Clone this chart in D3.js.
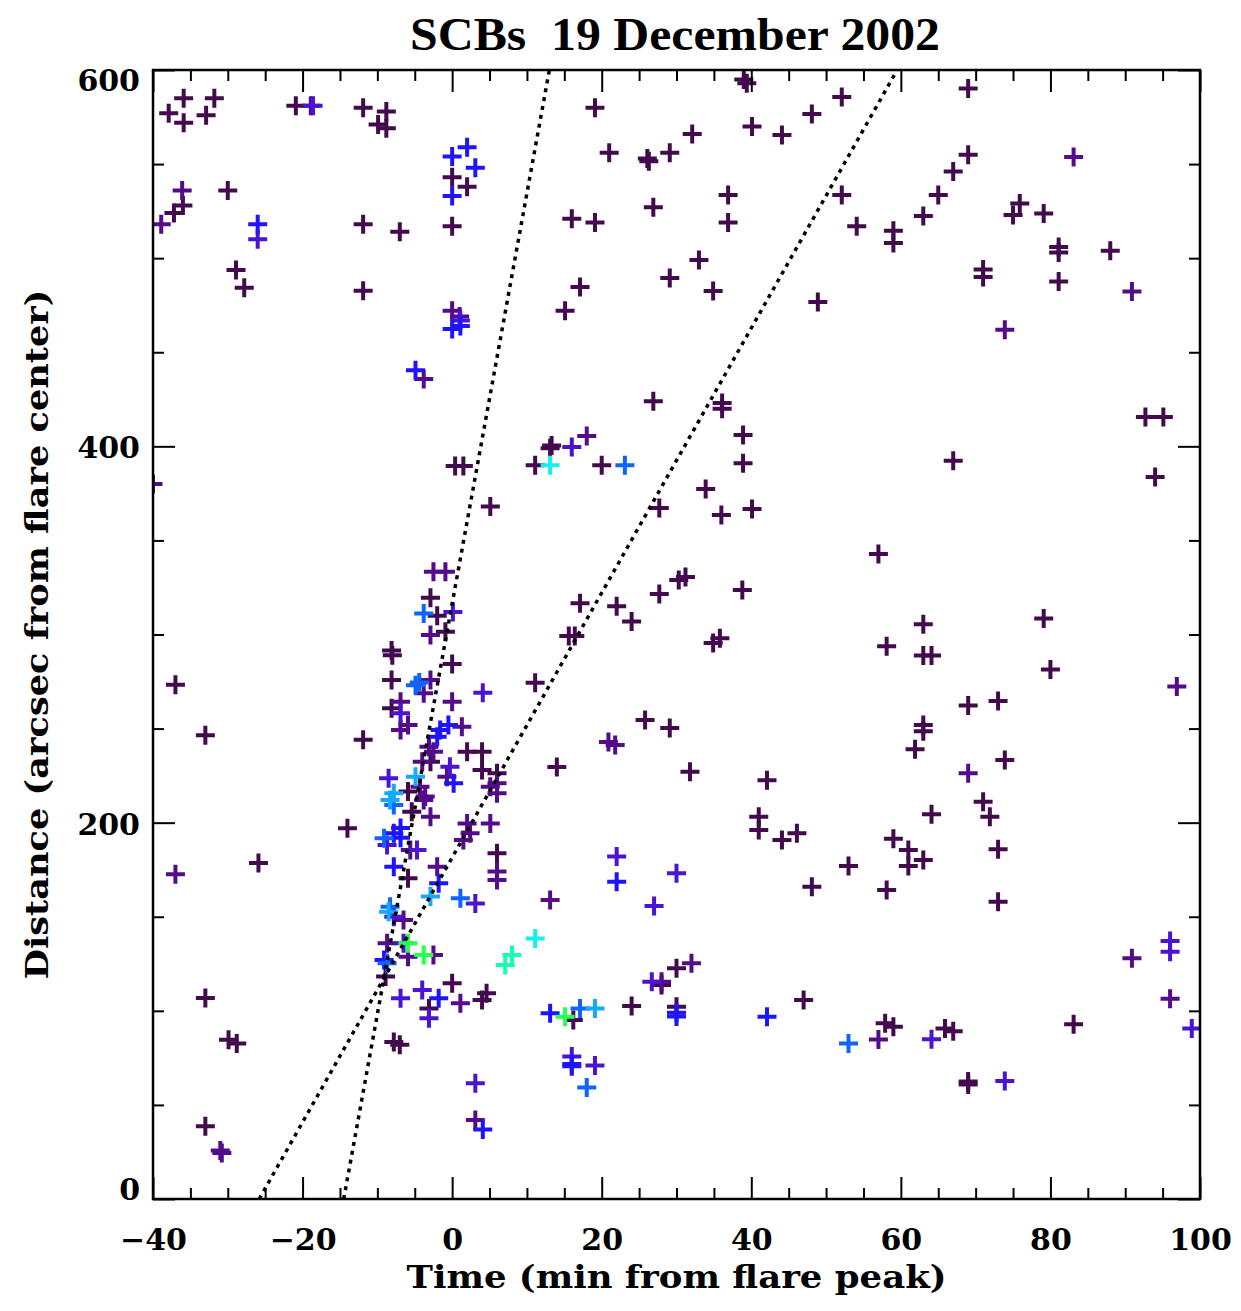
<!DOCTYPE html>
<html>
<head>
<meta charset="utf-8">
<script src="https://cdn.jsdelivr.net/npm/d3@7/dist/d3.min.js"></script>
<style>
  html, body { margin: 0; padding: 0; background: #ffffff; }
  svg { display: block; }
</style>
</head>
<body>
<svg id="chart" width="1241" height="1311"></svg>
<script>
// ---------------- DATA ----------------
const titleText = "SCBs  19 December 2002";
const xLabel = "Time (min from flare peak)";
const yLabel = "Distance (arcsec from flare center)";
const xDomain = [-40, 100];
const yDomain = [0, 600];
const xMajorTicks = [-40, -20, 0, 20, 40, 60, 80, 100];
const yMajorTicks = [0, 200, 400, 600];

// fitted front lines: [t0, d0, t1, d1]
const fitLineA = [-14.5, 0, 13.0, 600];
const fitLineB = [-25.8, 0, 59.5, 600];

// points grouped by colour level (0 = darkest ... 8 = green); each [time, distance]
const level0 = [
  [-37.9,577],[-35.9,585],[-35.9,572],[-32.9,576],[-31.8,585],[-20.9,581],[-11.9,580],[-8.8,578],
  [-9.9,571],[-8.8,569],[0,543],[2,538],[19.1,580],[21,556],[-36,528],[-37.2,524],[-30,536],
  [-11.9,518],[-7,514],[0,517],[16,521],[19.1,519],
  [39,595],[39.4,593],[52.1,585.6],[48.1,576.6],[40.1,570],[44.1,565.5],[32.1,566],[29.1,556],
  [26.1,553],[26.3,551.5],[36.9,533.6],[36.9,519],[26.9,527],[52.1,533.6],[54.1,517],[33,499],
  [29.1,489.5],[34.9,482.6],[17.1,484.7],[15.1,472],[48.9,476.7],[26.9,424],[36.1,423],[36.1,420],
  [13.1,399],[13.3,400.5],[20,390],[38.9,406],[38.9,391],[11.1,390],
  [69,590.2],[69,555],[67,546],[65,533.6],[63,522.4],[59,514.6],[59,508],[75.9,529],[75,523],
  [79.1,523.7],[81.1,503],[81.1,506],[88,504],[71,494],[71,490],[81.1,487.6],[92.7,415.6],
  [95.1,415.6],[67,392.4],[94,383.7],[57,342.8],
  [-28.9,493.7],[-27.8,484.3],[-11.9,482.7],[0.4,389.5],[1.5,389.5],[5.1,368],
  [-2.9,319.5],[-2,310],[-8.1,291.5],[-8.0,289],[0,284.3],[-8.1,275.8],[-8.1,260.8],[11.1,274.4],
  [-11.9,244],[-2.9,232.4],[2,237.7],[4,237.7],[4,228],[6,226.2],[-5.9,216.5],[-0.9,301.5],
  [-5.4,205.8],[6,183.7],[-5.9,170.4],[-8.9,118.2],[0,114.6],[4.6,109.3],[4,105.8],[-3.1,101.3],
  [16.2,95.1],[24,102.6],[30,122.6],[28,113.7],[30,102.2],[47,105.8],[41,203.2],[41,196.1],
  [44.1,190.8],[46.1,194.4],[42.1,222.5],[53,177],[48.1,166],
  [63,305.4],[58.1,293.7],[63,288.9],[64.1,288.9],[79.1,308.5],[80,281.4],[69,262.3],[73,264.7],
  [63,251.9],[63,248.6],[61.9,239],[73.9,233.3],[71,211.1],[71.9,203.1],[64.1,204.5],[59,191.5],
  [61,185.5],[63,180.2],[61,177],[73,185.9],[58.1,164.2],[73,158],[57.9,93.4],[59,91.5],
  [65.9,90.6],[67,89.1],[83.1,92.9],[69,62.5],[69,60.8],
  [-37,273.3],[-33,246.4],[-14,197],[-25.9,178.6],[-33,106.8],[-29.9,84.6],[-28.8,82.7],[-33,38.7],
  [33.9,377.3],[27.7,367.2],[36,363.5],[40.1,366.7],[17.1,316.6],[22,315],[24,306.9],[15.6,299.2],
  [16.4,299.2],[27.7,321.5],[30.3,329],[31.2,330.6],[38.8,323.7],[34.9,295.5],[35.8,298],
  [25.8,254.6],[29.1,250.3],[14,229.6],[31.8,227],[-7.8,83.5],[-7,82]
];
const level1 = [
  [-36.1,536],[-18.9,581],[-38.9,518],[0,472],[1,469],[18,405.5],[-3.8,435.8],[-2.5,333.4],[-0.9,333.4],
  [-2.9,299.7],[-2.9,275.8],[-3.8,268.8],[-6.9,264.3],[0,264.3],[-6.9,249.2],[-5.9,251.9],[1.3,251],
  [-3.1,240.4],[-2.5,237.7],[-4,232.4],[6,220.9],[5.1,219.1],[-0.7,224.4],[-4.3,219.1],[-3.6,213.9],
  [-3.8,212],[-2.9,203.2],[6,215.6],[2,199.6],[5.1,199.6],[2.4,194.4],[1.5,190.8],[-5.6,185.5],
  [-2,176.6],[6,174],[6,169.5],[-6.5,148.3],[-8.7,135.9],[-5.9,128.8],[-2.5,129.7],[1.1,104],
  [13.1,158.9],[32,125.3],[28,115.5],[3.1,42],[57,84.8],[20.9,242.9],[21.8,241.3],
  [83.1,553.8],[90.9,482.3],[73.9,462],[69,226.3],[96.9,272.4],[90.9,128],[96,106.4],
  [-37,172.6],[-31,25.8],[-30.8,24.5],
  [-41.3,563],[-40,380],[-41.3,248],[-41.3,207],[-41.3,202],[-41.3,188],[-41.3,118]
];
const level2 = [
  [-18.6,581],[-26,510],[1.1,466.9],[0.1,312],[4.1,269],[-6.9,258.1],[-0.3,229.7],[-8.5,223.6],
  [-8.7,188.1],[-4.7,185.5],[3.1,157.1],[-7.8,150],[-6.5,135.9],[-6.9,106.7],[-4,111.1],[-3.1,96],
  [22,182],[30,173.1],[27,155.7],[26.7,115.5],[16,75.7],[19.1,70.9],[3.1,61.5],[16,399.6],
  [96,137.1],[96,131.4],[64.1,84.9],[98.9,90.6],[73.9,62.7]
];
const level3 = [
  [-26,518],[0,554],[2,559],[3.1,548],[0,533],[0,462.3],[1.1,464],[-4.9,440.5],[-2,245.7],
  [-1.6,249.2],[-0.5,251.9],[0.2,220.9],[-7.8,194.4],[-6.9,197.1],[-6.9,192],[-7.8,176.6],
  [-1.8,167.8],[-9.1,127],[-1.8,106.7],[13.1,98.7],[30,97],[30,99],[42.1,96.9],[22,168.6],
  [16,71.7],[16,70.5],[4.1,37]
];
const level4 = [
  [23.1,390],[-3.8,311.2],[-4.9,273],[-4.4,274.5],[-7.8,209.4],[-9.1,191.7],[1.1,159.8],
  [-8.3,155.3],[-8.7,125.3],[17.1,101.3],[53,82.7],[18,59.2]
];
const level5 = [
  [-4.9,224.4],[-7.8,215.6],[-8.3,212],[-2.9,160.7],[-8.5,152.7],[19.1,101.3]
];
const level6 = [[13.1,390],[11.1,138.5]];
const level7 = [[8,129.7],[7.1,124.4]];
const level8 = [[-5.9,135.9],[-3.8,129.7],[15.1,96.9]];

const levels = [level0, level1, level2, level3, level4, level5, level6, level7, level8];

// ---------------- DRAWING ----------------
const svg = d3.select("#chart");
const W = 1241, H = 1311;
const margin = {left: 153, right: W - 1200, top: 70, bottom: H - 1199};

const x = d3.scaleLinear().domain(xDomain).range([margin.left, W - margin.right]);
const y = d3.scaleLinear().domain(yDomain).range([H - margin.bottom, margin.top]);

const colour = d3.scaleOrdinal()
  .domain(d3.range(levels.length))
  .range(["#430a4e", "#540c8a", "#4b14d2", "#1e14ff", "#0f64ff", "#14aaff", "#14f0ea", "#14ffb4", "#28ff50"]);

svg.append("rect").attr("width", W).attr("height", H).attr("fill", "#fff");

svg.append("clipPath").attr("id", "plotclip")
  .append("rect")
  .attr("x", x(xDomain[0])).attr("y", y(yDomain[1]))
  .attr("width", x(xDomain[1]) - x(xDomain[0]))
  .attr("height", y(yDomain[0]) - y(yDomain[1]));

const plot = svg.append("g").attr("clip-path", "url(#plotclip)");

// points (plus symbols)
const cross = "M-9.5,0H9.5M0,-9.5V9.5";
levels.forEach((pts, li) => {
  plot.append("g")
    .selectAll("path")
    .data(pts)
    .join("path")
    .attr("d", cross)
    .attr("transform", d => `translate(${x(d[0])},${y(d[1])})`)
    .attr("fill", "none")
    .attr("stroke", colour(li))
    .attr("stroke-width", 4);
});

// dotted fit lines
[fitLineA, fitLineB].forEach(l => {
  plot.append("line")
    .attr("x1", x(l[0])).attr("y1", y(l[1]))
    .attr("x2", x(l[2])).attr("y2", y(l[3]))
    .attr("stroke", "#000")
    .attr("stroke-width", 3.5)
    .attr("stroke-dasharray", "4,5");
});

// axes
const tickFont = "'DejaVu Serif', serif";
const minorX = d3.range(xDomain[0], xDomain[1] + 0.1, 5).filter(v => !xMajorTicks.includes(v));
const minorY = d3.range(yDomain[0], yDomain[1] + 0.1, 50).filter(v => !yMajorTicks.includes(v));

function styleAxis(g) {
  g.select(".domain").remove();
  g.selectAll(".tick line").attr("stroke", "#000").attr("stroke-width", 2);
}

// bottom
const gB = svg.append("g").attr("transform", `translate(0,${y(yDomain[0])})`)
  .call(d3.axisBottom(x).tickValues(xMajorTicks).tickSize(-22).tickPadding(30).tickFormat(d3.format("d")));
styleAxis(gB);
gB.selectAll("text").attr("font-family", tickFont).attr("font-size", 30).attr("font-weight", "bold")
  .attr("fill", "#000").text(d => d < 0 ? "\u2212" + Math.abs(d) : d);
svg.append("g").attr("transform", `translate(0,${y(yDomain[0])})`)
  .call(d3.axisBottom(x).tickValues(minorX).tickSize(-11).tickFormat(""))
  .call(styleAxis);

// top
svg.append("g").attr("transform", `translate(0,${y(yDomain[1])})`)
  .call(d3.axisTop(x).tickValues(xMajorTicks).tickSize(-22).tickFormat(""))
  .call(styleAxis);
svg.append("g").attr("transform", `translate(0,${y(yDomain[1])})`)
  .call(d3.axisTop(x).tickValues(minorX).tickSize(-11).tickFormat(""))
  .call(styleAxis);

// left
const gL = svg.append("g").attr("transform", `translate(${x(xDomain[0])},0)`)
  .call(d3.axisLeft(y).tickValues(yMajorTicks).tickSize(-22).tickPadding(13).tickFormat(d3.format("d")));
styleAxis(gL);
gL.selectAll("text").attr("font-family", tickFont).attr("font-size", 30).attr("font-weight", "bold")
  .attr("fill", "#000")
  .attr("dy", d => d === yDomain[0] ? "0em" : (d === yDomain[1] ? "0.68em" : "0.38em"));
svg.append("g").attr("transform", `translate(${x(xDomain[0])},0)`)
  .call(d3.axisLeft(y).tickValues(minorY).tickSize(-11).tickFormat(""))
  .call(styleAxis);

// right
svg.append("g").attr("transform", `translate(${x(xDomain[1])},0)`)
  .call(d3.axisRight(y).tickValues(yMajorTicks).tickSize(-22).tickFormat(""))
  .call(styleAxis);
svg.append("g").attr("transform", `translate(${x(xDomain[1])},0)`)
  .call(d3.axisRight(y).tickValues(minorY).tickSize(-11).tickFormat(""))
  .call(styleAxis);

// frame
svg.append("rect")
  .attr("x", x(xDomain[0])).attr("y", y(yDomain[1]))
  .attr("width", x(xDomain[1]) - x(xDomain[0]))
  .attr("height", y(yDomain[0]) - y(yDomain[1]))
  .attr("fill", "none").attr("stroke", "#000").attr("stroke-width", 2.5);

// titles
svg.append("text")
  .attr("x", 675).attr("y", 50)
  .attr("text-anchor", "middle")
  .attr("font-family", "'Liberation Serif', 'Times New Roman', serif")
  .attr("font-weight", "bold")
  .attr("font-size", 46)
  .attr("textLength", 530).attr("lengthAdjust", "spacingAndGlyphs")
  .attr("xml:space", "preserve")
  .style("white-space", "pre")
  .text(titleText);

svg.append("text")
  .attr("x", (x(xDomain[0]) + x(xDomain[1])) / 2).attr("y", 1288)
  .attr("text-anchor", "middle")
  .attr("font-family", tickFont).attr("font-weight", "bold").attr("font-size", 31)
  .attr("textLength", 540).attr("lengthAdjust", "spacingAndGlyphs")
  .text(xLabel);

svg.append("text")
  .attr("transform", `translate(48,${(y(yDomain[0]) + y(yDomain[1])) / 2}) rotate(-90)`)
  .attr("text-anchor", "middle")
  .attr("font-family", tickFont).attr("font-weight", "bold").attr("font-size", 31)
  .attr("textLength", 690).attr("lengthAdjust", "spacingAndGlyphs")
  .text(yLabel);
</script>
</body>
</html>
